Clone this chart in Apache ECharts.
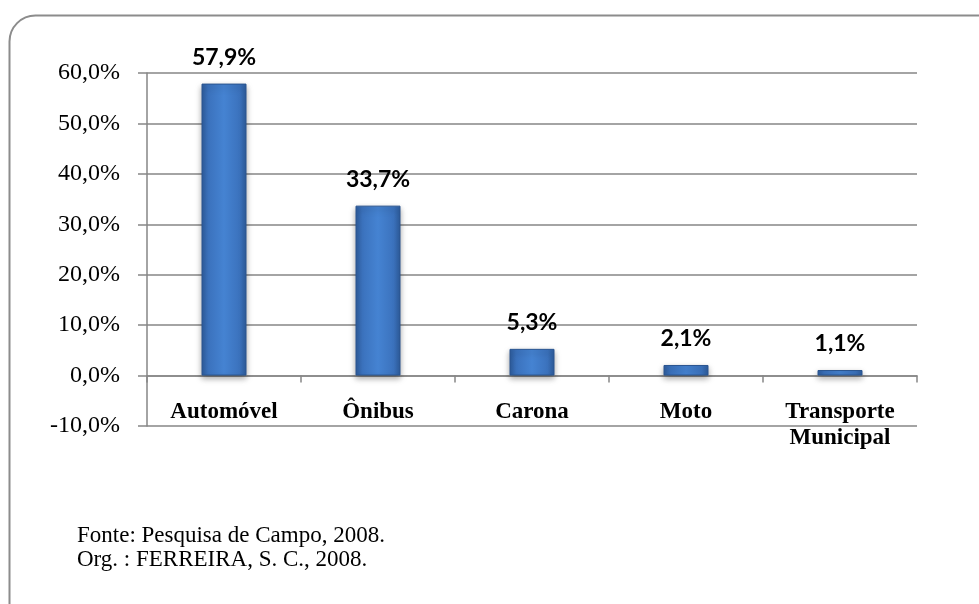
<!DOCTYPE html>
<html>
<head>
    <meta charset="utf-8">
    <script src="https://cdn.jsdelivr.net/npm/echarts@6/dist/echarts.min.js"></script>
    <title>Meio de transporte</title>
    <style>
        * { margin: 0; padding: 0; }
        body { background: #fff; }
        #view { width: 979px; height: 604px; }
    </style>
</head>
<body>
    <div id="view"></div>
    <script>
        // dados
        var categorias = ['Automóvel', 'Ônibus', 'Carona', 'Moto', 'Transporte\nMunicipal'];
        var valores = [57.9, 33.7, 5.3, 2.1, 1.1];
        var fonte = ['Fonte: Pesquisa de Campo, 2008.', 'Org. : FERREIRA, S. C., 2008.'];

        function pct(v) {
            return v.toFixed(1).replace('.', ',') + '%';
        }

        var view = echarts.init(document.getElementById('view'));
        var option = {
            animation: false,
            graphic: [
                {
                    type: 'rect',
                    left: 7, top: 13,
                    shape: { width: 1000, height: 640, r: 26 },
                    style: { fill: 'none', stroke: '#8c8c8c', lineWidth: 2 }
                },
                {
                    type: 'text',
                    left: 77, top: 524,
                    style: {
                        text: fonte.join('\n'),
                        font: '23px "Liberation Serif"',
                        lineHeight: 24,
                        fill: '#000'
                    }
                }
            ],
            grid: { left: 147, right: 62, top: 73, bottom: 178 },
            xAxis: {
                type: 'category',
                data: categorias,
                axisLine: { onZero: true, lineStyle: { color: '#868686', width: 1.5 } },
                axisTick: { show: true, length: 7, lineStyle: { color: '#868686', width: 1.5 } },
                axisLabel: {
                    margin: -27,
                    fontFamily: 'Liberation Serif',
                    fontWeight: 'bold',
                    fontSize: 23,
                    color: '#000',
                    lineHeight: 26
                }
            },
            yAxis: {
                type: 'value',
                min: -10,
                max: 60,
                interval: 10,
                axisLine: { show: true, lineStyle: { color: '#868686', width: 1.5 } },
                axisTick: { show: true, length: 9, lineStyle: { color: '#868686', width: 1.5 } },
                splitLine: { lineStyle: { color: '#868686', width: 1.5 } },
                axisLabel: {
                    margin: 27,
                    fontFamily: 'Liberation Serif',
                    fontSize: 24,
                    color: '#000',
                    formatter: pct
                }
            },
            series: [{
                type: 'bar',
                data: valores,
                barWidth: 45,
                itemStyle: {
                    color: new echarts.graphic.LinearGradient(0, 0, 1, 0, [
                        { offset: 0, color: '#2d5c9c' },
                        { offset: 0.15, color: '#3b72bd' },
                        { offset: 0.5, color: '#4583d2' },
                        { offset: 0.85, color: '#3b72bd' },
                        { offset: 1, color: '#2d5c9c' }
                    ]),
                    borderColor: '#2a5590',
                    borderWidth: 1,
                    shadowColor: 'rgba(0,0,0,0.35)',
                    shadowBlur: 6,
                    shadowOffsetY: 3
                },
                label: {
                    show: true,
                    position: 'top',
                    distance: 15,
                    fontFamily: 'Lato',
                    fontWeight: 'bold',
                    fontSize: 23,
                    color: '#000',
                    formatter: function (p) { return pct(p.value); }
                }
            }]
        };
        view.setOption(option);
    </script>
</body>
</html>
